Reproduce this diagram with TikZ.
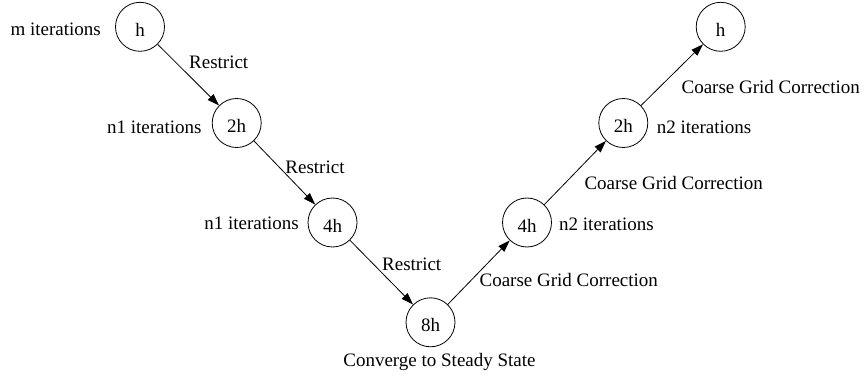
\documentclass[tikz,border=0pt]{standalone}
\usepackage{fontspec}
\setmainfont{Liberation Serif}
\usetikzlibrary{arrows.meta}
\begin{document}
\begin{tikzpicture}[x=1pt,y=-1pt,
  font=\fontsize{19}{22}\selectfont,
  lvl/.style={draw,circle,line width=0.8pt,minimum size=49pt,inner sep=0pt,text height=19pt,text depth=0pt},
  lbl/.style={inner sep=0pt},
  arr/.style={line width=0.8pt,-{Triangle[length=12pt,width=8pt]}}]
\useasboundingbox (0,0) rectangle (865,377);
\node[lvl] (A) at (140,26.8) {h};
\node[lvl] (B) at (236.7,123) {2h};
\node[lvl] (C) at (332.5,222.5) {4h};
\node[lvl] (D) at (430.5,322.3) {8h};
\node[lvl] (E) at (527,222.5) {4h};
\node[lvl] (F) at (623.3,123) {2h};
\node[lvl] (G) at (720.7,26.8) {h};
\draw[arr] (A) -- (B);
\draw[arr] (B) -- (C);
\draw[arr] (C) -- (D);
\draw[arr] (D) -- (E);
\draw[arr] (E) -- (F);
\draw[arr] (F) -- (G);
\node[lbl,anchor=base east] (lA) at (101,36) {m iterations};
\node[lbl,anchor=base] (r1) at (218.7,68.3) {Restrict};
\node[lbl,anchor=base east] (lB) at (201.7,133.3) {n1 iterations};
\node[lbl,anchor=base] (r2) at (315,173.3) {Restrict};
\node[lbl,anchor=base east] (lC) at (299,229.3) {n1 iterations};
\node[lbl,anchor=base] (r3) at (411.7,270.7) {Restrict};
\node[lbl,anchor=base] (lD) at (439.5,366) {Converge to Steady State};
\node[lbl,anchor=base] (c1) at (568.8,286.7) {Coarse Grid Correction};
\node[lbl,anchor=base west] (lE) at (559,230) {n2 iterations};
\node[lbl,anchor=base] (c2) at (673.7,189.3) {Coarse Grid Correction};
\node[lbl,anchor=base west] (lF) at (656.7,133.3) {n2 iterations};
\node[lbl,anchor=base] (c3) at (770.8,93.3) {Coarse Grid Correction};
\end{tikzpicture}
\end{document}
